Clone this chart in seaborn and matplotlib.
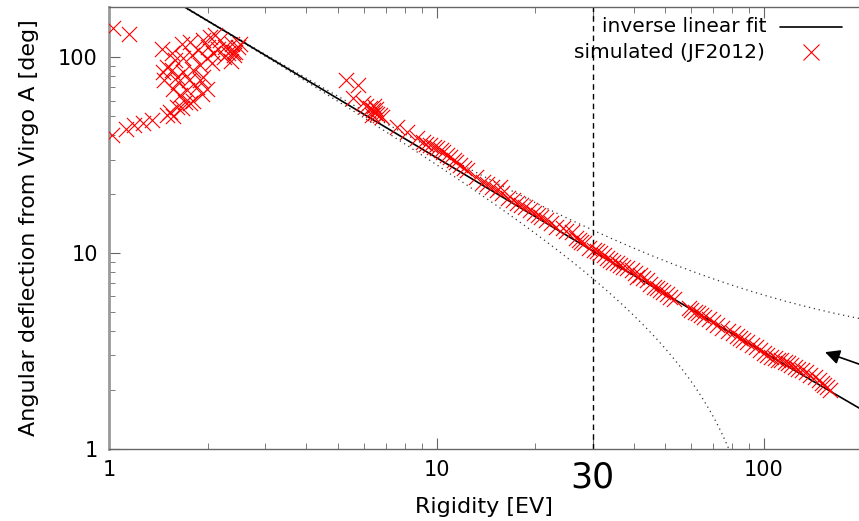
import numpy as np
import matplotlib
matplotlib.use('Agg')
import matplotlib.pyplot as plt
import seaborn as sns

# simulated deflections (JF2012 field)
low_x = [1.02, 1.026, 1.127, 1.153, 1.195, 1.267, 1.35, 1.448, 1.46, 1.47,
         1.50, 1.50, 1.535, 1.554, 1.554, 1.57, 1.57, 1.59, 1.61, 1.61,
         1.63, 1.65, 1.667, 1.667, 1.685, 1.685, 1.71, 1.73, 1.75, 1.768,
         1.77, 1.79, 1.81, 1.81, 1.85, 1.874, 1.90, 1.90, 1.92, 1.94,
         1.94, 1.99, 1.99, 2.03, 2.06, 2.08, 2.11, 2.18, 2.26, 2.31,
         2.37, 2.40, 2.42, 2.48, 2.15, 2.0, 2.25, 2.35, 2.51, 2.39]
low_y = [40, 140, 43, 131, 45, 46, 48, 110, 84, 76,
         89, 50.6, 52.6, 104.5, 86, 69, 49.8, 96.6, 55.7, 79.5,
         75, 64, 117, 54.7, 98.5, 84, 59, 68, 76, 120,
         58, 102, 86, 60, 70.6, 108.6, 91, 76, 65, 122,
         79.5, 98.5, 69, 127, 93, 104.5, 129, 122, 113, 104.5,
         117, 102, 106, 113, 110, 112, 100, 96, 117, 106]

high_x = [5.3, 5.75, 5.55, 5.95, 6.1, 6.25, 6.4, 6.5, 6.6, 6.7,
          6.35, 6.55, 6.8, 6.45, 7.55, 8.1, 8.7, 9.1, 9.3, 9.55,
          9.8, 10.0, 10.3, 10.5, 10.8, 11.0, 11.3, 11.5, 11.8, 12.1,
          12.4, 13.2, 13.9, 14.3, 14.8, 15.3, 15.6, 15.9, 16.5, 17.1,
          17.6, 18.1, 18.6, 19.3, 19.9, 20.4, 20.9, 21.6, 22.4, 23.2,
          24.4, 24.9, 25.9, 26.6, 27.2, 27.7, 28.2, 29.3, 30.2, 30.9,
          31.6, 32.4, 33.2, 33.9, 34.7, 35.5, 36.3, 37.2, 38.1, 39.4,
          40.3, 41.0, 41.8, 42.8, 43.8, 45.0, 46.0, 47.2, 48.2, 49.3,
          50.4, 51.6, 53.0, 59.0, 60.0, 61.4, 62.9, 64.3, 65.8, 67.7,
          69.8, 72.0, 74.5, 77.5, 80.5, 82.5, 84.5, 86.5, 89.0, 91.8,
          94.5, 97.5, 99.8, 102.3, 105.0, 108.0, 110.2, 112.8, 115.5, 118.4,
          121.2, 124.2, 127.3, 130.5, 134.5, 138.6, 142.8, 147.3, 150.2, 153.0,
          156.0, 159.0]
high_y = [76, 72, 62, 58, 56, 55, 53.5, 52, 51, 50.5,
          50.5, 54.5, 49.5, 56.5, 44, 41.6, 38.5, 37, 36.2, 35.6,
          34.8, 34.2, 33.4, 32.9, 31.6, 31, 29.8, 29.2, 28.2, 27,
          26.4, 24.5, 23.1, 22.4, 21.8, 21, 21.8, 20.2, 19, 18.6,
          18.0, 17.6, 17.2, 16.6, 16.0, 15.6, 15.3, 14.7, 14.2, 13.6,
          13.4, 12.9, 12.8, 11.9, 11.7, 11.4, 11.2, 10.6, 10.3, 10.2,
          10.0, 9.77, 9.45, 9.2, 9.0, 8.85, 8.65, 8.5, 8.35, 8.19,
          7.9, 7.57, 7.72, 7.45, 7.28, 6.95, 6.73, 6.6, 6.45, 6.35,
          6.15, 5.98, 5.85, 5.25, 5.12, 5.0, 4.92, 4.82, 4.73, 4.6,
          4.46, 4.3, 4.15, 4.02, 3.89, 3.76, 3.68, 3.6, 3.5, 3.39,
          3.3, 3.2, 3.1, 3.02, 2.95, 2.9, 2.86, 2.84, 2.78, 2.74,
          2.68, 2.63, 2.57, 2.53, 2.46, 2.39, 2.32, 2.25, 2.18, 2.12,
          2.06, 2.0]

# inverse linear fit  y = a / x + b  and its uncertainties
fit_a, fit_b = 306.0, 0.05
err_a, err_b, rho = 6.5, 3.05, -0.97

x_ticks = [1, 10, 30, 100]
x_tick_labels = ['1', '10', '30', '100']
y_ticks = [1, 10, 100]

sns.set_style('ticks', {'xtick.direction': 'in', 'ytick.direction': 'in'})
plt.rcParams['font.family'] = ['DejaVu Sans']
plt.rcParams['text.color'] = 'black'
plt.rcParams['axes.labelcolor'] = 'black'

fig = plt.figure(figsize=(8.59, 5.21), dpi=100)
ax = fig.add_axes([109 / 859, 1 - 449 / 521, 1 - 109 / 859, 442 / 521])

xs = np.geomspace(1.0, 200.0, 600)
fit = fit_a / xs + fit_b
band = np.sqrt((err_a / xs) ** 2 + err_b ** 2 + 2 * rho * err_a * err_b / xs)
upper = fit + band
lower = fit - band
lower = np.where(lower > 0, lower, np.nan)

ax.plot(xs, upper, color='#333333', lw=0.9, ls=(0, (1, 3)))
ax.plot(xs, lower, color='#333333', lw=0.9, ls=(0, (1, 3)))
sns.lineplot(x=xs, y=fit, color='black', lw=1.2, ax=ax)

sim_x = low_x + high_x
sim_y = low_y + high_y
sns.scatterplot(x=sim_x, y=sim_y, marker='x', color='red', s=120,
                linewidth=0.8, ax=ax, zorder=3)

ax.axvline(30, color='black', lw=1, ls=(0, (4, 3)))

ax.set_xscale('log')
ax.set_yscale('log')
ax.set_xlim(1, 195)
ax.set_ylim(1, 180)

ax.set_xticks(x_ticks)
ax.set_xticklabels(x_tick_labels)
ax.set_yticks(y_ticks)
ax.set_yticklabels([str(v) for v in y_ticks])
ax.tick_params(axis='both', which='major', labelsize=15, length=8,
               color='#666666', labelcolor='black', top=True, pad=8)
ax.tick_params(axis='both', which='minor', length=4, color='#666666',
               top=True, labelbottom=False, labelleft=False)
for lab in ax.get_xticklabels():
    if lab.get_text() == '30':
        lab.set_fontsize(25)

ax.set_xlabel('Rigidity [EV]', fontsize=16, labelpad=2)
ax.set_ylabel('Angular deflection from Virgo A [deg]', fontsize=16, labelpad=14)

for side in ['top', 'bottom']:
    ax.spines[side].set_color('#666666')
    ax.spines[side].set_linewidth(1)
ax.spines['left'].set_color('#999999')
ax.spines['left'].set_linewidth(2)
ax.spines['right'].set_visible(False)

# key, right-aligned as in the original
ax.text(0.877, 0.955, 'inverse linear fit', transform=ax.transAxes,
        ha='right', va='center', fontsize=14.5)
ax.plot([0.895, 0.977], [0.955, 0.955], color='black', lw=1.2,
        transform=ax.transAxes)
ax.text(0.875, 0.898, 'simulated (JF2012)', transform=ax.transAxes,
        ha='right', va='center', fontsize=14.5)
ax.plot([0.936], [0.898], marker='x', color='red', ms=11, mew=0.8,
        transform=ax.transAxes)

ax.annotate('', xy=(153.6, 3.12), xytext=(224, 2.5),
            arrowprops=dict(arrowstyle='-|>', color='black', lw=1.2,
                            mutation_scale=22, shrinkA=0, shrinkB=0),
            annotation_clip=False)

fig.savefig('out.png', dpi=100)
plt.close(fig)
